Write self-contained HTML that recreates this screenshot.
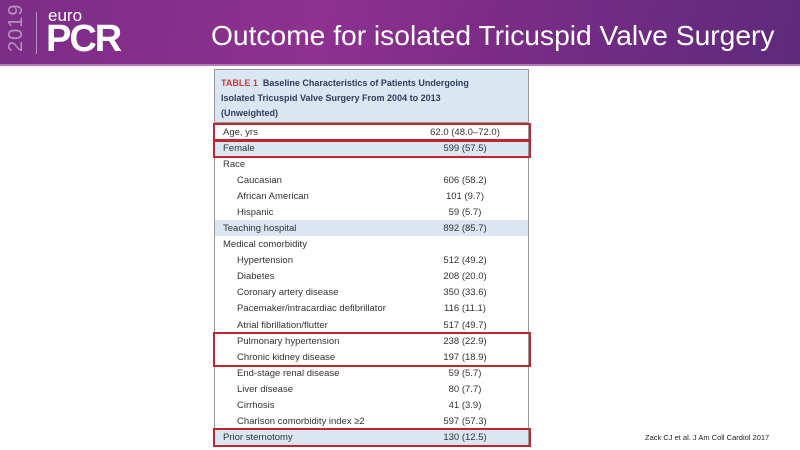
<!DOCTYPE html>
<html><head><meta charset="utf-8"><style>
*{margin:0;padding:0;box-sizing:border-box}
body{width:800px;height:450px;overflow:hidden;background:#fff;position:relative;font-family:"Liberation Sans",sans-serif}
.hdr{position:absolute;left:0;top:0;width:800px;height:66px;background:linear-gradient(100deg,#7b2d86 0%,#8e3190 40%,#7d2c88 60%,#5e2a7c 100%)}
.hdr .line{position:absolute;left:0;top:64px;width:800px;height:2px;background:#b07ab8}
.yr{position:absolute;left:5px;top:52px;transform:rotate(-90deg);transform-origin:0 0;color:#b98fc0;font-size:20px;letter-spacing:1px}
.sep{position:absolute;left:36px;top:12px;width:1px;height:42px;background:#b98fc0}
.euro{position:absolute;left:48px;top:6px;color:#fff;font-size:17px}
.pcr{position:absolute;left:46px;top:18px;color:#fff;font-size:38px;font-weight:bold;letter-spacing:-2px}
.title{position:absolute;left:211px;top:19px;color:#fff;font-size:28.2px;white-space:nowrap}
.tbl{position:absolute;left:214px;top:69px;width:315px;height:378px;border:1px solid #999;border-top:1px solid #888}
.cap{position:absolute;left:214px;top:69px;width:315px;height:54px;background:#dbe6f3;border:1px solid #999;padding:6px 0 0 6px;font-size:9px;font-weight:bold;color:#2d3e5e;line-height:15px}
.cap b{color:#d23a32}
.row{position:absolute;left:215px;width:313px;height:16px;font-size:9.5px;color:#333;line-height:17px}
.row span{position:absolute;left:8px}
.row.i span{left:22px}
.row em{position:absolute;left:250px;font-style:normal;transform:translateX(-50%);white-space:nowrap}
.sh{background:#dbe6f3}
.box{position:absolute;border:2px solid #c0262d}
.ref{position:absolute;left:645px;top:433px;font-size:7.5px;color:#222}
</style></head><body>
<div class="hdr"><div class="line"></div></div>
<div class="yr">2019</div><div class="sep"></div>
<div class="euro">euro</div><div class="pcr">PCR</div>
<div class="title">Outcome for isolated Tricuspid Valve Surgery</div>
<div class="tbl"></div>
<div class="cap"><b>TABLE 1</b>&nbsp; Baseline Characteristics of Patients Undergoing<br>Isolated Tricuspid Valve Surgery From 2004 to 2013<br>(Unweighted)</div>
<div class="row" style="top:124px"><span>Age, yrs</span><em>62.0 (48.0–72.0)</em></div>
<div class="row sh" style="top:140px"><span>Female</span><em>599 (57.5)</em></div>
<div class="row" style="top:156px"><span>Race</span></div>
<div class="row i" style="top:172px"><span>Caucasian</span><em>606 (58.2)</em></div>
<div class="row i" style="top:188px"><span>African American</span><em>101 (9.7)</em></div>
<div class="row i" style="top:204px"><span>Hispanic</span><em>59 (5.7)</em></div>
<div class="row sh" style="top:220px"><span>Teaching hospital</span><em>892 (85.7)</em></div>
<div class="row" style="top:236px"><span>Medical comorbidity</span></div>
<div class="row i" style="top:252px"><span>Hypertension</span><em>512 (49.2)</em></div>
<div class="row i" style="top:268px"><span>Diabetes</span><em>208 (20.0)</em></div>
<div class="row i" style="top:284px"><span>Coronary artery disease</span><em>350 (33.6)</em></div>
<div class="row i" style="top:300px"><span>Pacemaker/intracardiac defibrillator</span><em>116 (11.1)</em></div>
<div class="row i" style="top:317px"><span>Atrial fibrillation/flutter</span><em>517 (49.7)</em></div>
<div class="row i" style="top:333px"><span>Pulmonary hypertension</span><em>238 (22.9)</em></div>
<div class="row i" style="top:349px"><span>Chronic kidney disease</span><em>197 (18.9)</em></div>
<div class="row i" style="top:365px"><span>End-stage renal disease</span><em>59 (5.7)</em></div>
<div class="row i" style="top:381px"><span>Liver disease</span><em>80 (7.7)</em></div>
<div class="row i" style="top:397px"><span>Cirrhosis</span><em>41 (3.9)</em></div>
<div class="row i" style="top:413px"><span>Charlson comorbidity index ≥2</span><em>597 (57.3)</em></div>
<div class="row sh" style="top:429px"><span>Prior sternotomy</span><em>130 (12.5)</em></div>
<div class="box" style="left:213px;top:123px;width:318px;height:19px"></div>
<div class="box" style="left:213px;top:139px;width:318px;height:19px"></div>
<div class="box" style="left:213px;top:332px;width:318px;height:35px"></div>
<div class="box" style="left:213px;top:428px;width:318px;height:19px"></div>
<div class="ref">Zack CJ et al. J Am Coll Cardiol 2017</div>
</body></html>
